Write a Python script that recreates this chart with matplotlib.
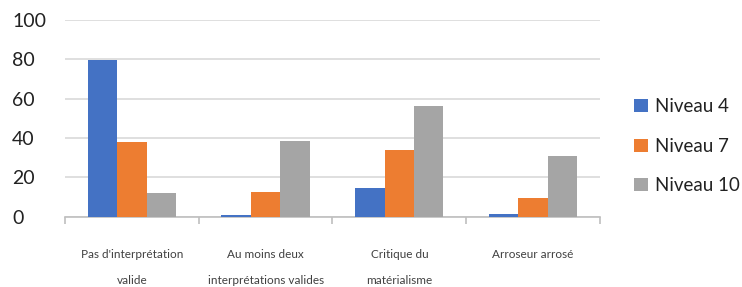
import matplotlib
matplotlib.use("Agg")
import matplotlib.pyplot as plt
import numpy as np

plt.rcParams['font.family'] = ['Lato', 'DejaVu Sans']

categories = ["Pas d'interprétation\nvalide", "Au moins deux\ninterprétations valides",
              "Critique du\nmatérialisme", "Arroseur arrosé"]
series_names = ["Niveau 4", "Niveau 7", "Niveau 10"]
niveau4 = [79.5, 0.8, 14.4, 1.2]
niveau7 = [37.8, 12.4, 33.9, 9.5]
niveau10 = [11.9, 38.3, 56.4, 31.0]
yticks = [0, 20, 40, 60, 80, 100]

colors = ["#4472C4", "#ED7D31", "#A5A5A5"]
values = [niveau4, niveau7, niveau10]

fig = plt.figure(figsize=(7.42, 2.87), dpi=100)
ax = fig.add_axes([0.0876, 0.245, 0.721, 0.685])

x = np.arange(len(categories))
bw = 0.22
for i, (vals, c, name) in enumerate(zip(values, colors, series_names)):
    ax.bar(x + (i - 1) * bw, vals, width=bw, color=c, label=name, zorder=3)

ax.set_xlim(-0.5, len(categories) - 0.5)
ax.set_ylim(0, 100)
ax.set_yticks(yticks)
ax.yaxis.grid(True, color="#D9D9D9", linewidth=1.2, zorder=0)
ax.tick_params(axis="y", length=0, labelsize=14, pad=0, labelcolor="#222222")

for s in ["top", "right", "left"]:
    ax.spines[s].set_visible(False)
ax.spines["bottom"].set_color("#BFBFBF")
ax.spines["bottom"].set_linewidth(1.2)

ax.set_xticks(x)
ax.set_xticklabels(categories, fontsize=8.5, color="#404040", linespacing=2.7)
ax.tick_params(axis="x", which="major", length=0, pad=23)
ax.set_xticks(np.arange(-0.5, len(categories), 1.0), minor=True)
ax.tick_params(axis="x", which="minor", length=5, color="#BFBFBF", width=1.2)

for lab in ax.get_yticklabels():
    lab.set_horizontalalignment("left")
    lab.set_position((-0.099, lab.get_position()[1]))

leg = fig.legend(loc="center left", bbox_to_anchor=(0.855, 0.49), frameon=False,
                 fontsize=13.5, handlelength=0.7, handleheight=0.7, handletextpad=0.4,
                 labelspacing=1.2, borderpad=0, borderaxespad=0)
for t in leg.get_texts():
    t.set_color("#222222")

fig.savefig("out.png", dpi=100)
